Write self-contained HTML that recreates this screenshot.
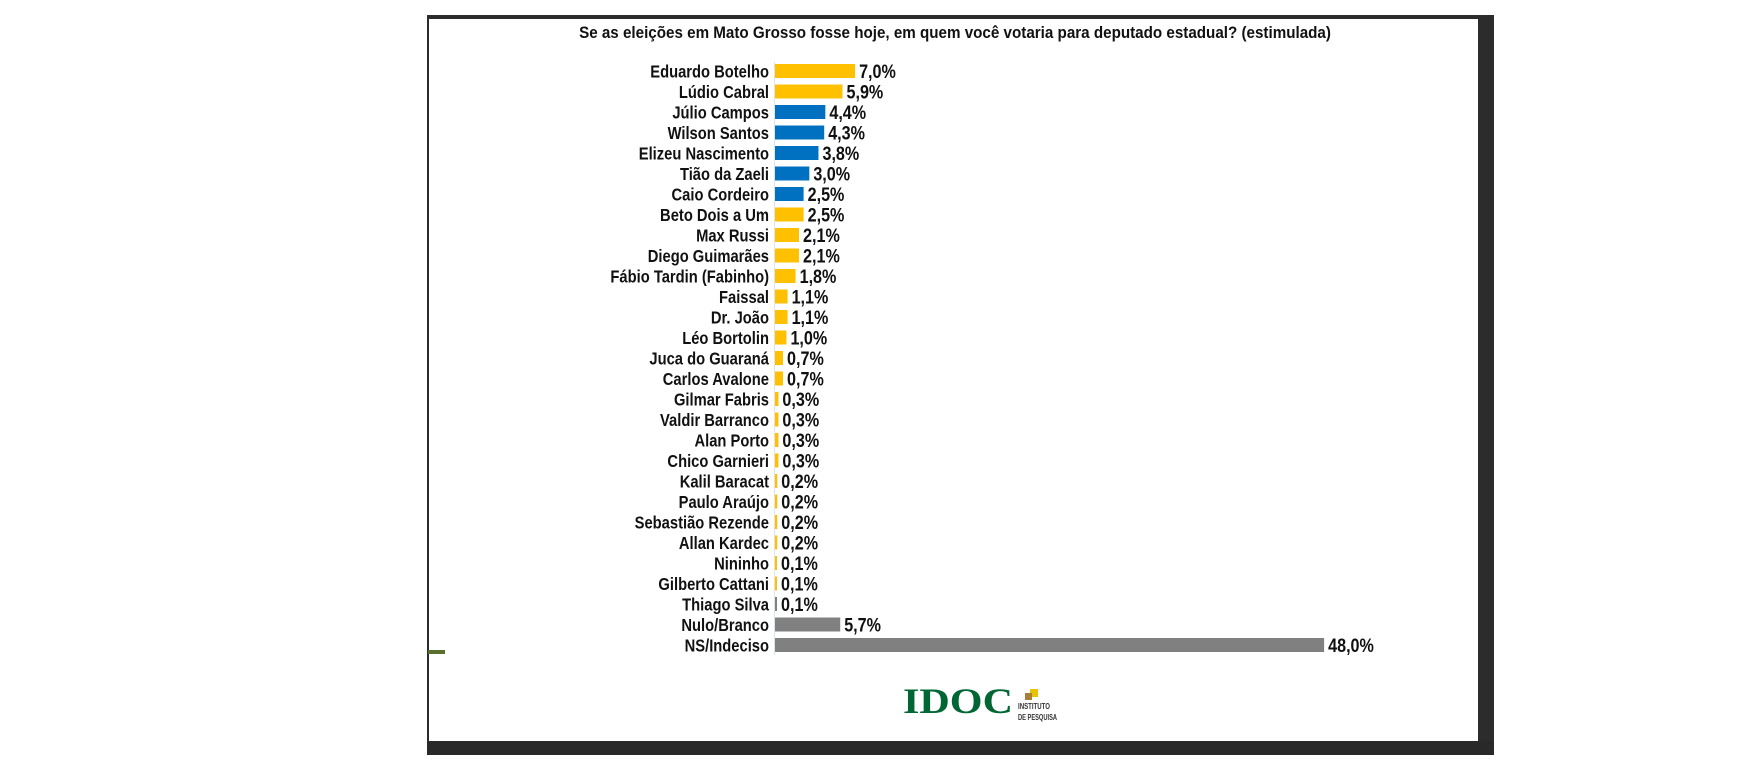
<!DOCTYPE html>
<html><head><meta charset="utf-8"><style>
html,body{margin:0;padding:0;background:#fff;width:1744px;height:773px;overflow:hidden}
svg{display:block}
text{font-family:"Liberation Sans",sans-serif;font-weight:bold;fill:#111}
</style></head><body>
<svg width="1744" height="773" viewBox="0 0 1744 773" xmlns="http://www.w3.org/2000/svg">
<rect x="427" y="15" width="1067" height="4" fill="#2b2c2b"/>
<rect x="427" y="15" width="2" height="740" fill="#2b2c2b"/>
<rect x="1478" y="15" width="16" height="740" fill="#2b2c2b"/>
<rect x="427" y="741" width="1067" height="14" fill="#282928"/>
<rect x="428" y="650" width="17" height="4" fill="#5a6e2e"/>
<text transform="translate(955,38) scale(0.894,1)" font-size="17" text-anchor="middle">Se as eleições em Mato Grosso fosse hoje, em quem você votaria para deputado estadual? (estimulada)</text>
<line x1="774.5" y1="62" x2="774.5" y2="655" stroke="#dde4f0" stroke-width="1"/>
<g id="bars">
</g>
<text x="903" y="713" font-size="36" style="font-family:'Liberation Serif',serif;fill:#006633;font-weight:bold" textLength="110" lengthAdjust="spacingAndGlyphs">IDOC</text>
<rect x="1030" y="689" width="8" height="8" fill="#e8c400"/>
<rect x="1025" y="693" width="7" height="7" fill="#a87f3a"/>
<text x="1018" y="709" font-size="8" style="fill:#333" textLength="32" lengthAdjust="spacingAndGlyphs">INSTITUTO</text>
<text x="1018" y="720" font-size="8" style="fill:#333" textLength="39" lengthAdjust="spacingAndGlyphs">DE PESQUISA</text>
</svg>
<script>
var d=[["Eduardo Botelho",7.0,"y"],["Lúdio Cabral",5.9,"y"],["Júlio Campos",4.4,"b"],["Wilson Santos",4.3,"b"],["Elizeu Nascimento",3.8,"b"],["Tião da Zaeli",3.0,"b"],["Caio Cordeiro",2.5,"b"],["Beto Dois a Um",2.5,"y"],["Max Russi",2.1,"y"],["Diego Guimarães",2.1,"y"],["Fábio Tardin (Fabinho)",1.8,"y"],["Faissal",1.1,"y"],["Dr. João",1.1,"y"],["Léo Bortolin",1.0,"y"],["Juca do Guaraná",0.7,"y"],["Carlos Avalone",0.7,"y"],["Gilmar Fabris",0.3,"y"],["Valdir Barranco",0.3,"y"],["Alan Porto",0.3,"y"],["Chico Garnieri",0.3,"y"],["Kalil Baracat",0.2,"y"],["Paulo Araújo",0.2,"y"],["Sebastião Rezende",0.2,"y"],["Allan Kardec",0.2,"y"],["Nininho",0.1,"y"],["Gilberto Cattani",0.1,"y"],["Thiago Silva",0.1,"g"],["Nulo/Branco",5.7,"g"],["NS/Indeciso",48.0,"g"]];
var c={y:"#FFC000",b:"#0070C0",g:"#808080"};var s="";
d.forEach(function(r,i){var cy=71+i*20.5;var w=Math.max(2,r[1]*11.44);
s+='<text transform="translate(769,'+(cy+6.5)+') scale(0.82,1)" text-anchor="end" font-size="18">'+r[0]+'</text>';
s+='<rect x="775" y="'+(cy-7)+'" width="'+w+'" height="14" fill="'+c[r[2]]+'"/>';
s+='<text transform="translate('+(775+w+4)+','+(cy+7)+') scale(0.85,1)" font-size="19">'+r[1].toFixed(1).replace(".",",")+'%</text>';});
document.getElementById("bars").innerHTML=s;
</script>
</body></html>
